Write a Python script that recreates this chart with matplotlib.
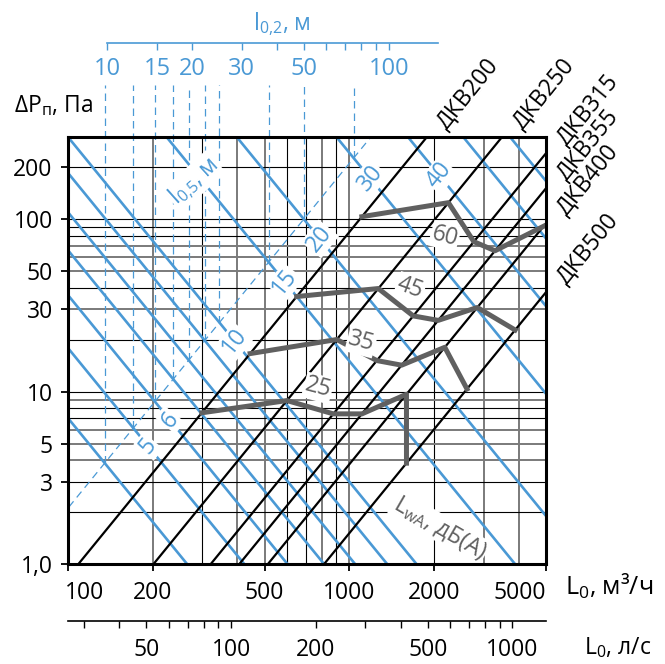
import numpy as np
import matplotlib
matplotlib.use("Agg")
import matplotlib.pyplot as plt

plt.rcParams['font.family'] = ['Open Sans', 'DejaVu Sans']
plt.rcParams['mathtext.fontset'] = 'custom'
plt.rcParams['mathtext.rm'] = 'Open Sans'
plt.rcParams['mathtext.it'] = 'Open Sans'
plt.rcParams['mathtext.bf'] = 'Open Sans'

BLUE = '#4a99d5'
GREY = '#606060'
FS = 16.5

# diffuser sizes, lines dP = k * (L/1000)^2
sizes = ['ДКВ200', 'ДКВ250', 'ДКВ315', 'ДКВ355', 'ДКВ400', 'ДКВ500']
size_k = [84.3, 24.65, 9.66, 6.05, 3.79, 1.51]

# throw l0,5 lines, dP = K * (1000/L)^2
throw = [4, 5, 6, 7, 8, 9, 10, 15, 20, 30, 40, 50, 60]
throw_k = [0.0702, 0.179, 0.363, 0.661, 1.098, 1.856, 3.0, 15.05, 47.5, 243, 783, 1935, 4165]
throw_lab = [5, 6, 10, 15, 20, 30, 40]
throw_lab_L = [193, 230, 392, 590, 786, 1185, 2090]

# dashed helper line l0,5 -> l0,2
diag_k = 211

# noise curves: flow at each size for given LwA
noise_levels = [25, 35, 45, 60]
noise_L = [[299, 600, 877, 1108, 1596, 1596],
           [444, 902, 1252, 1534, 2184, 2619],
           [650, 1268, 1687, 2069, 2849, 3884],
           [1108, 2250, 2770, 3294, 4900, np.nan]]
noise_lab_L = [774, 1103, 1644, 2185]
noise_lab_p = [10.5, 19.4, 39.8, 79.7]
noise_lab_rot = [-15, -15, -20, -15]

# grid
vgrid_black = [300, 600, 700, 900, 2000]
vgrid_grey = [200, 400, 500, 800, 1000, 3000, 4000]
hgrid_black = [2, 3, 7, 8, 10, 20, 40, 80, 90, 100, 200]
hgrid_grey = [4, 5, 6, 9, 30, 50, 60, 70]

yticks = [1, 3, 5, 10, 30, 50, 100, 200]
ylabels = ['1,0', '3', '5', '10', '30', '50', '100', '200']
xticks = [100, 200, 500, 1000, 2000, 5000]

# secondary scales
LS_FACTOR = 3.8     # m3/h per l/s (as drawn)
L02_FACTOR = 13.8   # m3/h per metre of l0,2
ls_major = [50, 100, 200, 500, 1000]
ls_minor = [30, 40, 60, 70, 80, 90, 300, 400, 600, 700, 800, 900]
l02_ticks = [10, 15, 20, 30, 40, 50, 60, 70, 80, 90, 100]
l02_labels = [10, 15, 20, 30, 50, 100]

W, H = 665, 664
fig = plt.figure(figsize=(W / 100, H / 100), dpi=100)
ax = fig.add_axes([68 / W, 1 - 564 / H, 478 / W, 427 / H])
ax.set_xscale('log')
ax.set_yscale('log')
ax.set_xlim(100, 5000)
ax.set_ylim(1, 300)

for v in vgrid_black:
    ax.axvline(v, color='black', lw=0.8, zorder=1)
for v in vgrid_grey:
    ax.axvline(v, color='#7a7a7a', lw=1.4, zorder=1)
for v in hgrid_black:
    ax.axhline(v, color='black', lw=0.8, zorder=1)
for v in hgrid_grey:
    ax.axhline(v, color='#7a7a7a', lw=1.4, zorder=1)

L = np.geomspace(60, 8000, 300)
for K in throw_k:
    ax.plot(L, K * (1000 / L) ** 2, color=BLUE, lw=1.9, zorder=3)

ax.plot(L, diag_k * (L / 1000) ** 2, color=BLUE, lw=0.9, ls=(0, (6, 4)), zorder=3)
for K in throw_k:
    Lc = 1000 * (K / diag_k) ** 0.25
    pc = diag_k * (Lc / 1000) ** 2
    if pc < 300:
        ax.plot([Lc, Lc], [pc, 600], color=BLUE, lw=0.9, ls=(0, (6, 4)),
                clip_on=False, zorder=3)

for k in size_k:
    ax.plot(L, k * (L / 1000) ** 2, color='black', lw=1.6, zorder=4)

for Ls in noise_L:
    Ls = np.array(Ls, dtype=float)
    ok = ~np.isnan(Ls)
    p = np.array(size_k)[ok] * (Ls[ok] / 1000) ** 2
    ax.plot(Ls[ok], p, color=GREY, lw=3.6, zorder=5, solid_joinstyle='round')

box = dict(fc='white', ec='none', pad=0.8)
for c, Lx in zip(throw_lab, throw_lab_L):
    K = throw_k[throw.index(c)]
    ax.text(Lx, K * (1000 / Lx) ** 2, str(c), color=BLUE, fontsize=FS,
            rotation=51, ha='center', va='center', bbox=box, zorder=6)

for lev, Lx, px, rot in zip(noise_levels, noise_lab_L, noise_lab_p, noise_lab_rot):
    ax.text(Lx, px, str(lev), color=GREY, fontsize=FS, rotation=rot,
            ha='center', va='center', bbox=box, zorder=6)

ax.text(280, 166, r'l$_{0{,}5}$, м', color=BLUE, fontsize=FS, rotation=42,
        ha='center', va='center', bbox=box, zorder=6)
ax.text(2094, 1.62, r'L$_{\mathrm{wA}}$, дБ(A)', color=GREY, fontsize=FS,
        rotation=-30, ha='center', va='center', bbox=box, zorder=6)

for name, k in zip(sizes, size_k):
    Ltop = 1000 * np.sqrt(300 / k)
    if Ltop <= 5000:
        xy = (Ltop, 300)
    else:
        xy = (5000, k * 25)
    ax.annotate(name, xy=xy, xytext=(30, 31), textcoords='offset points',
                rotation=51, ha='center', va='center', fontsize=FS,
                annotation_clip=False)

for s in ax.spines.values():
    s.set_linewidth(2.2)
    s.set_zorder(7)
ax.set_yticks(yticks)
ax.set_yticklabels(ylabels)
ax.yaxis.set_minor_locator(matplotlib.ticker.NullLocator())
ax.set_xticks(xticks)
ax.set_xticklabels([])
ax.xaxis.set_minor_locator(matplotlib.ticker.NullLocator())
ax.tick_params(direction='out', length=5, width=1.3, labelsize=FS, pad=6)

for i, v in enumerate(xticks):
    ha, dx = 'center', 0
    if i == 0:
        ha, dx = 'left', -2
    if i == len(xticks) - 1:
        ha, dx = 'right', 0
    ax.annotate(str(v), xy=(v, 0), xycoords=('data', 'axes fraction'),
                xytext=(dx, -21), textcoords='offset points',
                ha=ha, va='center', fontsize=FS)

# top scale l0,2
axt = fig.add_axes([68 / W, 1 - 43 / H, 478 / W, 0.0001])
axt.set_xscale('log')
axt.set_xlim(100 / L02_FACTOR, 5000 / L02_FACTOR)
axt.patch.set_visible(False)
axt.yaxis.set_visible(False)
for side in ['top', 'left', 'right']:
    axt.spines[side].set_visible(False)
axt.spines['bottom'].set_color(BLUE)
axt.spines['bottom'].set_linewidth(1.2)
axt.spines['bottom'].set_bounds(10, 150)
axt.set_xticks(l02_ticks)
axt.set_xticklabels([str(t) if t in l02_labels else '' for t in l02_ticks])
axt.xaxis.set_minor_locator(matplotlib.ticker.NullLocator())
axt.tick_params(direction='out', length=5, width=1, color=BLUE,
                labelcolor=BLUE, labelsize=FS + 0.5, pad=5)

# bottom scale l/s
axb = fig.add_axes([68 / W, 1 - 621 / H, 478 / W, 0.0001])
axb.set_xscale('log')
axb.set_xlim(100 / LS_FACTOR, 5000 / LS_FACTOR)
axb.patch.set_visible(False)
axb.yaxis.set_visible(False)
for side in ['top', 'left', 'right']:
    axb.spines[side].set_visible(False)
axb.spines['bottom'].set_linewidth(1.2)
axb.set_xticks(ls_major)
axb.set_xticklabels([str(t) for t in ls_major])
axb.set_xticks(ls_minor, minor=True)
axb.xaxis.set_minor_formatter(matplotlib.ticker.NullFormatter())
axb.tick_params(which='both', direction='out', length=5, width=1,
                labelsize=FS, pad=7)

fig.text(282 / W, 1 - 24 / H, r'l$_{0{,}2}$, м', color=BLUE, fontsize=FS,
         ha='center', va='center')
fig.text(54 / W, 1 - 106 / H, r'ΔP$_{\mathrm{п}}$, Па', fontsize=FS,
         ha='center', va='center')
fig.text(609 / W, 1 - 586 / H, r'L$_0$, м³/ч', fontsize=FS + 1.5,
         ha='center', va='center')
fig.text(618 / W, 1 - 648 / H, r'L$_0$, л/с', fontsize=FS,
         ha='center', va='center')

fig.savefig('out.png', dpi=100)
